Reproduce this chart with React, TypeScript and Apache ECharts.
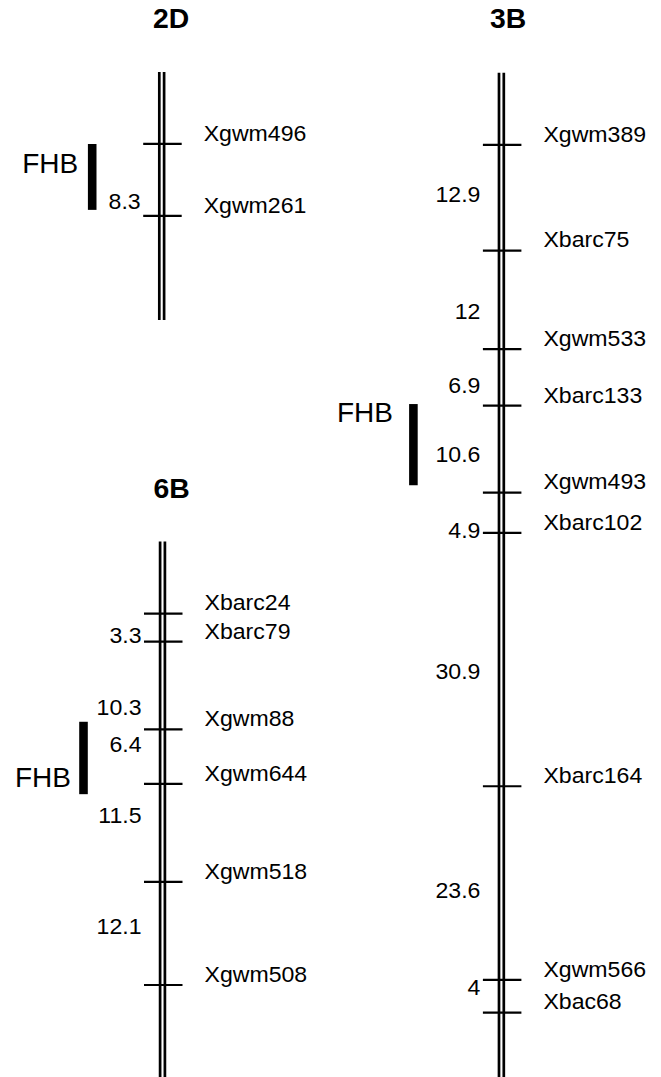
import React, { useEffect, useRef } from "react";
import * as echarts from "echarts";

// ---------- Chromosome 2D ----------
const markers2D = ["Xgwm496", "Xgwm261"];
const pos2D = [0, 8.3]; // cM
const intervals2D = ["8.3"];
const intervalAt2D = [6.65];
const qtl2D = [0, 7.6];
const qtlLabelAt2D = 2.2;
const arm2D = [-8.3, 20.3];

// ---------- Chromosome 3B ----------
const markers3B = ["Xgwm389", "Xbarc75", "Xgwm533", "Xbarc133", "Xgwm493", "Xbarc102", "Xbarc164", "Xgwm566", "Xbac68"];
const pos3B = [0, 12.9, 24.9, 31.8, 42.4, 47.3, 78.2, 101.8, 105.8];
const intervals3B = ["12.9", "12", "6.9", "10.6", "4.9", "30.9", "23.6", "4"];
const intervalAt3B = [6.1, 20.3, 29.3, 37.8, 47.1, 64.2, 90.9, 102.8];
const qtl3B = [31.6, 41.5];
const qtlLabelAt3B = 32.6;
const arm3B = [-8.8, 113.65];

// ---------- Chromosome 6B ----------
const markers6B = ["Xbarc24", "Xbarc79", "Xgwm88", "Xgwm644", "Xgwm518", "Xgwm508"];
const pos6B = [0, 3.3, 13.6, 20.0, 31.5, 43.6];
const intervals6B = ["3.3", "10.3", "6.4", "11.5", "12.1"];
const intervalAt6B = [2.6, 11.0, 15.4, 23.7, 36.7];
const qtl6B = [12.7, 21.2];
const qtlLabelAt6B = 19.2;
const arm6B = [-8.45, 54.4];

const qtlName = "FHB";

const FONT = "'Liberation Sans', Arial, Helvetica, sans-serif";

type Chrom = {
  name: string;
  markers: string[];
  pos: number[];
  intervals: string[];
  intervalAt: number[];
  qtl: number[];
  qtlLabelAt: number;
  arm: number[];
  layout: { cx: number; top: number; height: number; titleX: number; titleY: number; qtlX: number; qtlLabelRight: number };
};

const chroms: Chrom[] = [
  {
    name: "2D", markers: markers2D, pos: pos2D, intervals: intervals2D, intervalAt: intervalAt2D,
    qtl: qtl2D, qtlLabelAt: qtlLabelAt2D, arm: arm2D,
    layout: { cx: 161.7, top: 72, height: 248, titleX: 171, titleY: 19, qtlX: -69.5, qtlLabelRight: -83.5 },
  },
  {
    name: "3B", markers: markers3B, pos: pos3B, intervals: intervals3B, intervalAt: intervalAt3B,
    qtl: qtl3B, qtlLabelAt: qtlLabelAt3B, arm: arm3B,
    layout: { cx: 501.4, top: 72.7, height: 1004.3, titleX: 508, titleY: 19, qtlX: -88, qtlLabelRight: -108.5 },
  },
  {
    name: "6B", markers: markers6B, pos: pos6B, intervals: intervals6B, intervalAt: intervalAt6B,
    qtl: qtl6B, qtlLabelAt: qtlLabelAt6B, arm: arm6B,
    layout: { cx: 162.5, top: 541.6, height: 535.4, titleX: 171.5, titleY: 489, qtlX: -79, qtlLabelRight: -91.5 },
  },
];

const HALF = 150;

function buildOption() {
  const grid: any[] = [];
  const xAxis: any[] = [];
  const yAxis: any[] = [];
  const series: any[] = [];
  const graphic: any[] = [];

  chroms.forEach((c, gi) => {
    const L = c.layout;
    grid.push({ left: L.cx - HALF, width: HALF * 2, top: L.top, height: L.height, containLabel: false });
    xAxis.push({ type: "value", gridIndex: gi, min: -HALF, max: HALF, show: false });
    yAxis.push({ type: "value", gridIndex: gi, min: c.arm[0], max: c.arm[1], inverse: true, show: false });

    // chromosome body (double line)
    series.push({
      type: "custom",
      xAxisIndex: gi,
      yAxisIndex: gi,
      clip: false,
      encode: { x: 0, y: [1, 2] },
      data: [[0, c.arm[0], c.arm[1]]],
      renderItem: (params: any, api: any) => {
        const p0 = api.coord([0, api.value(1)]);
        const p1 = api.coord([0, api.value(2)]);
        const off = 2.4;
        return {
          type: "group",
          children: [-off, off].map((d) => ({
            type: "line",
            shape: { x1: p0[0] + d, y1: p0[1], x2: p1[0] + d, y2: p1[1] },
            style: { stroke: "#000", lineWidth: 2.7 },
          })),
        };
      },
    });

    // marker ticks + names
    series.push({
      type: "custom",
      xAxisIndex: gi,
      yAxisIndex: gi,
      clip: false,
      encode: { x: 0, y: 1 },
      data: c.pos.map((p) => [0, p]),
      renderItem: (params: any, api: any) => {
        const pt = api.coord([0, api.value(1)]);
        return {
          type: "group",
          children: [
            {
              type: "line",
              shape: { x1: pt[0] - 18.5, y1: pt[1], x2: pt[0] + 20, y2: pt[1] },
              style: { stroke: "#000", lineWidth: 2.2 },
            },
            {
              type: "text",
              x: pt[0] + 42,
              y: pt[1] - 10.5,
              scaleX: 1.05,
              style: {
                text: c.markers[params.dataIndex],
                fill: "#000",
                fontSize: 22,
                fontFamily: FONT,
                align: "left",
                verticalAlign: "middle",
              },
            },
          ],
        };
      },
    });

    // interval distances
    series.push({
      type: "custom",
      xAxisIndex: gi,
      yAxisIndex: gi,
      clip: false,
      encode: { x: 0, y: 1 },
      data: c.intervalAt.map((p) => [0, p]),
      renderItem: (params: any, api: any) => {
        const pt = api.coord([0, api.value(1)]);
        return {
          type: "text",
          x: pt[0] - 21,
          y: pt[1],
          scaleX: 1.05,
          style: {
            text: c.intervals[params.dataIndex],
            fill: "#000",
            fontSize: 22,
            fontFamily: FONT,
            align: "right",
            verticalAlign: "middle",
          },
        };
      },
    });

    // QTL bar + label
    series.push({
      type: "custom",
      xAxisIndex: gi,
      yAxisIndex: gi,
      clip: false,
      encode: { x: 0, y: [1, 2, 3] },
      data: [[0, c.qtl[0], c.qtl[1], c.qtlLabelAt]],
      renderItem: (params: any, api: any) => {
        const a = api.coord([L.qtlX, api.value(1)]);
        const b = api.coord([L.qtlX, api.value(2)]);
        const t = api.coord([L.qtlLabelRight, api.value(3)]);
        return {
          type: "group",
          children: [
            {
              type: "rect",
              shape: { x: a[0] - 4.3, y: a[1], width: 8.6, height: b[1] - a[1] },
              style: { fill: "#000" },
            },
            {
              type: "text",
              x: t[0],
              y: t[1],
              style: {
                text: qtlName,
                fill: "#000",
                fontSize: 28,
                fontFamily: FONT,
                align: "right",
                verticalAlign: "middle",
              },
            },
          ],
        };
      },
    });

    graphic.push({
      type: "text",
      x: L.titleX,
      y: L.titleY,
      scaleX: 1.05,
      style: {
        text: c.name,
        fill: "#000",
        fontSize: 27,
        fontWeight: "bold",
        fontFamily: FONT,
        align: "center",
        verticalAlign: "middle",
      },
    });
  });

  return {
    animation: false,
    backgroundColor: "#fff",
    grid,
    xAxis,
    yAxis,
    series,
    graphic,
  };
}

export default function App() {
  const ref = useRef<HTMLDivElement>(null);
  useEffect(() => {
    if (!ref.current) return;
    const chart = echarts.init(ref.current, undefined, { renderer: "svg" });
    chart.setOption(buildOption() as any);
    return () => chart.dispose();
  }, []);
  return (
    <div
      ref={ref}
      style={{ position: "absolute", left: 0, top: 0, width: 661, height: 1077, background: "#fff" }}
    />
  );
}
